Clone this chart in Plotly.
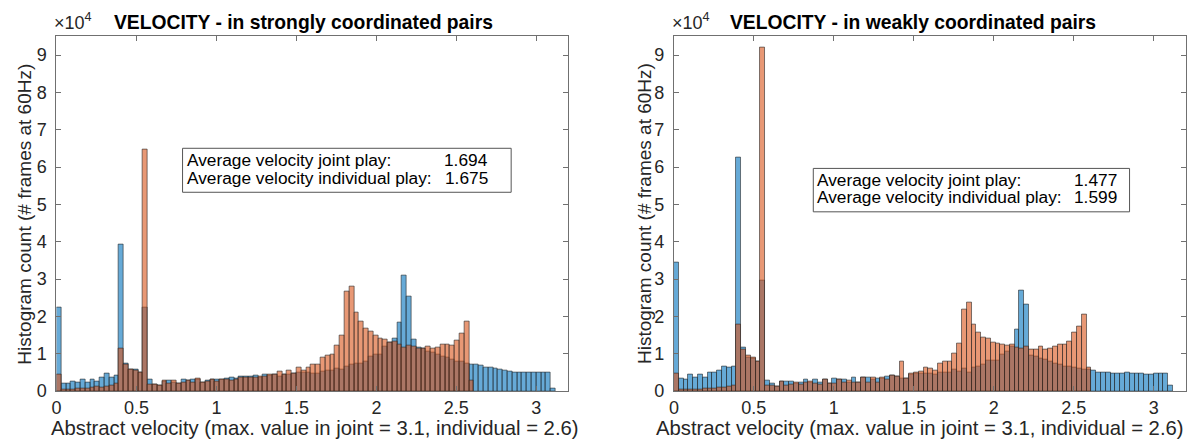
import plotly.graph_objects as go

# ---------------- data (counts in units of 10^4) ----------------
BIN_WIDTH = 0.03
X_TICKS = [0, 0.5, 1, 1.5, 2, 2.5, 3]
X_TICK_LABELS = ["0", "0.5", "1", "1.5", "2", "2.5", "3"]
Y_TICKS = [0, 1, 2, 3, 4, 5, 6, 7, 8, 9]

joint_strong = [
    2.24, 0.19, 0.19, 0.25, 0.23, 0.30, 0.24, 0.31, 0.26, 0.36,
    0.46, 0.35, 0.41, 3.93, 0.75, 0.59, 0.58, 0.49, 2.24, 0.30,
    0.18, 0.16, 0.25, 0.27, 0.23, 0.20, 0.31, 0.29, 0.30, 0.30,
    0.22, 0.29, 0.32, 0.30, 0.32, 0.33, 0.35, 0.33, 0.39, 0.38,
    0.38, 0.41, 0.36, 0.44, 0.42, 0.44, 0.40, 0.45, 0.45, 0.47,
    0.50, 0.50, 0.50, 0.48, 0.46, 0.53, 0.55, 0.55, 0.61, 0.57,
    0.65, 0.70, 0.74, 0.74, 0.79, 0.92, 0.99, 0.99, 1.18, 1.29,
    1.42, 1.83, 3.10, 2.53, 1.39, 1.16, 1.15, 1.07, 1.02, 0.99,
    0.92, 0.90, 0.85, 0.79, 0.79, 0.74, 0.70, 0.70, 0.69, 0.63,
    0.63, 0.60, 0.57, 0.55, 0.53, 0.51, 0.51, 0.51, 0.51, 0.49,
    0.49, 0.49, 0.50, 0.08,
]
indiv_strong = [
    0.44, 0.03, 0.04, 0.05, 0.06, 0.08, 0.08, 0.10, 0.11, 0.09,
    0.13, 0.16, 0.20, 1.14, 0.72, 0.57, 0.56, 0.49, 6.46, 0.17,
    0.17, 0.15, 0.28, 0.20, 0.27, 0.21, 0.22, 0.29, 0.24, 0.33,
    0.22, 0.25, 0.30, 0.25, 0.30, 0.31, 0.28, 0.32, 0.37, 0.37,
    0.35, 0.36, 0.40, 0.39, 0.43, 0.44, 0.53, 0.43, 0.55, 0.48,
    0.62, 0.55, 0.62, 0.72, 0.70, 0.89, 0.96, 0.99, 1.22, 1.50,
    2.66, 2.81, 2.11, 1.85, 1.68, 1.59, 1.48, 1.41, 1.37, 1.31,
    1.32, 1.25, 1.17, 1.21, 1.20, 1.15, 1.15, 1.20, 1.13, 1.17,
    1.25, 1.25, 1.22, 1.35, 1.54, 1.85, 0.28,
]
joint_weak = [
    3.45, 0.33, 0.31, 0.45, 0.37, 0.45, 0.36, 0.51, 0.49, 0.54,
    0.67, 0.62, 0.65, 6.27, 1.16, 0.90, 0.88, 0.78, 2.96, 0.29,
    0.20, 0.12, 0.25, 0.26, 0.26, 0.20, 0.23, 0.31, 0.24, 0.30,
    0.22, 0.31, 0.20, 0.33, 0.31, 0.31, 0.24, 0.36, 0.24, 0.35,
    0.35, 0.31, 0.33, 0.33, 0.38, 0.42, 0.39, 0.34, 0.33, 0.44,
    0.46, 0.48, 0.48, 0.46, 0.43, 0.50, 0.51, 0.51, 0.58, 0.52,
    0.61, 0.51, 0.64, 0.67, 0.72, 0.83, 0.83, 0.83, 0.99, 1.07,
    1.18, 1.65, 2.69, 2.31, 0.96, 0.92, 0.87, 0.85, 0.80, 0.74,
    0.70, 0.65, 0.65, 0.64, 0.61, 0.57, 0.57, 0.54, 0.51, 0.51,
    0.51, 0.48, 0.48, 0.48, 0.49, 0.47, 0.46, 0.46, 0.45, 0.45,
    0.46, 0.46, 0.46, 0.16,
]
indiv_weak = [
    0.46, 0.03, 0.03, 0.04, 0.04, 0.05, 0.06, 0.07, 0.08, 0.09,
    0.10, 0.11, 0.15, 1.79, 1.12, 0.94, 0.91, 0.80, 9.20, 0.16,
    0.15, 0.13, 0.26, 0.15, 0.17, 0.24, 0.17, 0.22, 0.26, 0.19,
    0.17, 0.31, 0.20, 0.20, 0.31, 0.22, 0.28, 0.22, 0.24, 0.35,
    0.24, 0.35, 0.23, 0.37, 0.31, 0.42, 0.39, 0.80, 0.33, 0.48,
    0.50, 0.52, 0.62, 0.61, 0.55, 0.73, 0.79, 0.78, 1.00, 1.27,
    2.18, 2.37, 1.79, 1.57, 1.44, 1.40, 1.31, 1.28, 1.24, 1.21,
    1.24, 1.16, 1.13, 1.18, 1.12, 1.11, 1.18, 1.12, 1.13, 1.18,
    1.25, 1.24, 1.34, 1.56, 1.73, 2.05, 0.62,
]

titles = ["VELOCITY - in strongly coordinated pairs", "VELOCITY - in weakly coordinated pairs"]
xlabel = "Abstract velocity (max. value in joint = 3.1, individual = 2.6)"
ylabel = "Histogram count (# frames at 60Hz)"
avg_joint = ["1.694", "1.477"]
avg_indiv = ["1.675", "1.599"]

# ---------------- figure ----------------
W, H = 1189, 444
FONT = "Liberation Sans, Arial, Helvetica, sans-serif"
BLUE = "rgba(0,114,189,0.6)"
ORANGE = "rgba(217,83,25,0.6)"
EDGE = "rgba(38,38,38,0.85)"
AXC = "#707070"


def px_x(p):
    return p / W


def px_y(p):
    return 1 - p / H


def centers(n):
    return [BIN_WIDTH * (i + 0.5) for i in range(n)]


fig = go.Figure()
panels = [
    (joint_strong, indiv_strong, "x", "y"),
    (joint_weak, indiv_weak, "x2", "y2"),
]
for joint, indiv, xa, ya in panels:
    fig.add_trace(go.Bar(x=centers(len(joint)), y=joint, width=BIN_WIDTH,
                         marker=dict(color=BLUE, line=dict(color=EDGE, width=0.7)),
                         xaxis=xa, yaxis=ya, showlegend=False, name="joint"))
    fig.add_trace(go.Bar(x=centers(len(indiv)), y=indiv, width=BIN_WIDTH,
                         marker=dict(color=ORANGE, line=dict(color=EDGE, width=0.7)),
                         xaxis=xa, yaxis=ya, showlegend=False, name="individual"))

ax_left = [51.7, 671.7]
ax_right = [565.7, 1185.7]
ax_top, ax_bot = 37.3, 400.0

TICKFONT = dict(family=FONT, size=18, color="#262626")
xcommon = dict(range=[0, 3.2], tickvals=X_TICKS, ticktext=X_TICK_LABELS,
               ticks="inside", ticklen=5, tickcolor=AXC, showline=True, linecolor=AXC,
               linewidth=1, mirror="allticks", showgrid=False, zeroline=False,
               tickfont=TICKFONT, ticklabelstandoff=0, fixedrange=True)
ycommon = dict(range=[0, 9.5], tickvals=Y_TICKS, ticks="inside", ticklen=5, tickcolor=AXC,
               showline=True, linecolor=AXC, linewidth=1, mirror="allticks", showgrid=False,
               zeroline=False, tickfont=TICKFONT, ticklabelstandoff=5, fixedrange=True)

fig.update_layout(
    width=W, height=H, margin=dict(l=0, r=0, t=0, b=0),
    paper_bgcolor="white", plot_bgcolor="white", barmode="overlay", bargap=0,
    xaxis=dict(domain=[px_x(ax_left[0]), px_x(ax_right[0])], anchor="y", **xcommon),
    yaxis=dict(domain=[px_y(ax_bot), px_y(ax_top)], anchor="x", **ycommon),
    xaxis2=dict(domain=[px_x(ax_left[1]), px_x(ax_right[1])], anchor="y2", **xcommon),
    yaxis2=dict(domain=[px_y(ax_bot), px_y(ax_top)], anchor="x2", **ycommon),
)

annotations = []
shapes = []
ylab_x = [20, 642]
title_cx = [300, 912]
xlab_cx = [311, 919]
box_x = [(178.3, 508.3), (811.7, 1129.3)]
box_y = [(151.7, 196.7), (172.3, 216.7)]
label_x = [182, 814]
num_right = [486, 1118]
for k in range(2):
    annotations.append(dict(text="<b>" + titles[k] + "</b>", x=px_x(title_cx[k]), y=px_y(23),
                            xref="paper", yref="paper", showarrow=False, xanchor="center",
                            yanchor="middle", font=dict(family=FONT, size=19.3, color="black")))
    annotations.append(dict(text=xlabel, x=px_x(xlab_cx[k]), y=px_y(438), xref="paper",
                            yref="paper", showarrow=False, xanchor="center", yanchor="middle",
                            font=dict(family=FONT, size=20.3, color="#262626")))
    annotations.append(dict(text=ylabel, x=px_x(ylab_x[k]), y=px_y((ax_top + ax_bot) / 2),
                            xref="paper", yref="paper", showarrow=False, textangle=-90,
                            xanchor="center", yanchor="middle",
                            font=dict(family=FONT, size=19, color="#262626")))
    annotations.append(dict(text="×10<sup>4</sup>", x=px_x(ax_left[k] - 4), y=px_y(36),
                            xref="paper", yref="paper", showarrow=False, xanchor="left",
                            yanchor="bottom", font=dict(family=FONT, size=18, color="#262626")))
    bx0, bx1 = box_x[k]
    by0, by1 = box_y[k]
    bc = (by0 + by1) / 2
    shapes.append(dict(type="rect", xref="paper", yref="paper", x0=px_x(bx0), x1=px_x(bx1),
                       y0=px_y(by1), y1=px_y(by0), line=dict(color="#555555", width=1),
                       fillcolor="white", layer="above"))
    lines = [("Average velocity joint play:", avg_joint[k], bc - 10.5),
             ("Average velocity individual play:", avg_indiv[k], bc + 7.5)]
    for label, val, yy in lines:
        annotations.append(dict(text=label, x=px_x(label_x[k]), y=px_y(yy), xref="paper",
                                yref="paper", showarrow=False, xanchor="left", yanchor="middle",
                                borderpad=0, font=dict(family=FONT, size=17.3, color="black")))
        annotations.append(dict(text=val, x=px_x(num_right[k]), y=px_y(yy), xref="paper",
                                yref="paper", showarrow=False, xanchor="right", yanchor="middle",
                                borderpad=0, font=dict(family=FONT, size=17.3, color="black")))

fig.update_layout(annotations=annotations, shapes=shapes)
fig.write_html("out.html")
